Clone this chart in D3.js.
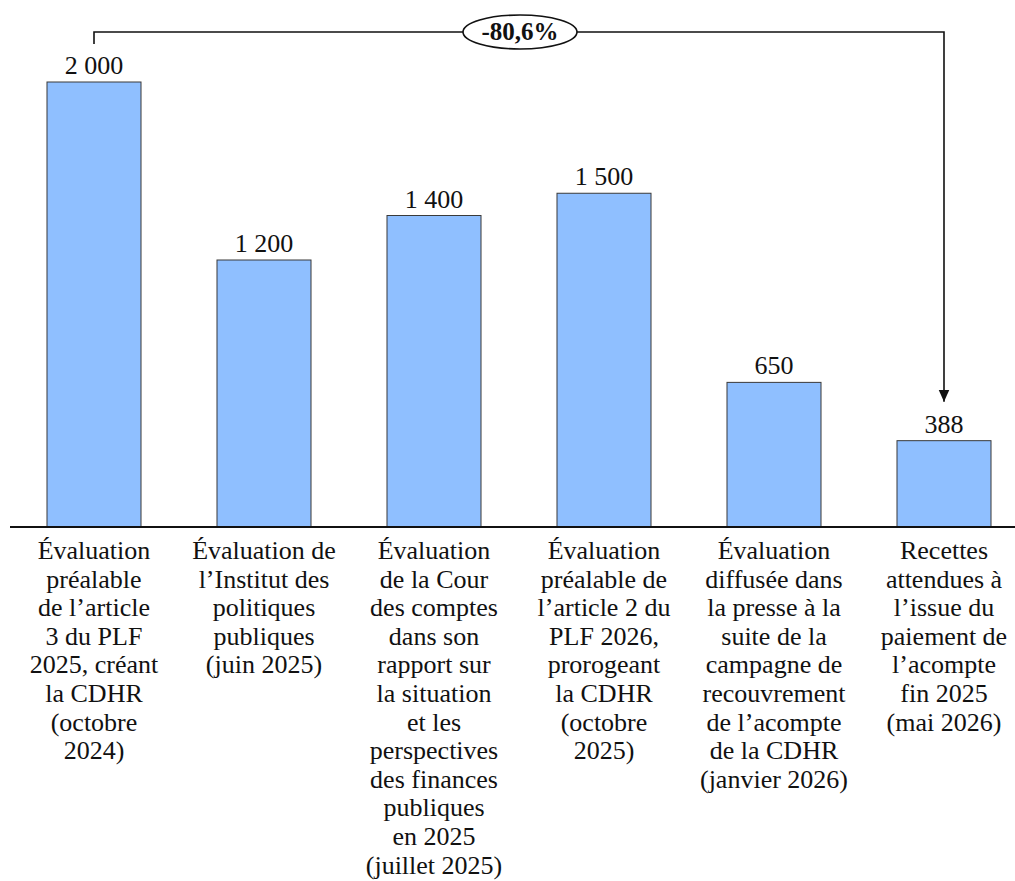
<!DOCTYPE html>
<html>
<head>
<meta charset="utf-8">
<script src="https://cdn.jsdelivr.net/npm/d3@7"></script>
<style>
  body { margin: 0; background: #fff; }
</style>
</head>
<body>
<script>
var width = 1015,
    height = 881,
    baseline = 527;

// one entry per bar, lines of the category label as they wrap in the picture
var labels = [
    ['Évaluation', 'préalable', 'de l’article', '3 du PLF', '2025, créant', 'la CDHR', '(octobre', '2024)'],
    ['Évaluation de', 'l’Institut des', 'politiques', 'publiques', '(juin 2025)'],
    ['Évaluation', 'de la Cour', 'des comptes', 'dans son', 'rapport sur', 'la situation', 'et les', 'perspectives', 'des finances', 'publiques', 'en 2025', '(juillet 2025)'],
    ['Évaluation', 'préalable de', 'l’article 2 du', 'PLF 2026,', 'prorogeant', 'la CDHR', '(octobre', '2025)'],
    ['Évaluation', 'diffusée dans', 'la presse à la', 'suite de la', 'campagne de', 'recouvrement', 'de l’acompte', 'de la CDHR', '(janvier 2026)'],
    ['Recettes', 'attendues à', 'l’issue du', 'paiement de', 'l’acompte', 'fin 2025', '(mai 2026)']
];
var values = [2000, 1200, 1400, 1500, 650, 388];
var valueLabels = ['2 000', '1 200', '1 400', '1 500', '650', '388'];
var change = '-80,6%';

var svg = d3.select('body')
    .append('svg')
    .attr('width', width)
    .attr('height', height)
    .attr('font-family', '"Liberation Serif", "Times New Roman", serif')
    .attr('fill', '#111');

var x = d3.scaleBand()
    .domain(d3.range(values.length))
    .range([9, 1029])
    .paddingInner(0.447)
    .paddingOuter(0.2235);

var y = d3.scaleLinear()
    .domain([0, 2000])
    .range([baseline, 82]);

svg.append('g')
    .selectAll('rect')
    .data(values).enter()
    .append('rect')
    .attr('x', (d, i) => x(i))
    .attr('y', d => y(d))
    .attr('width', x.bandwidth())
    .attr('height', d => baseline - y(d))
    .attr('fill', '#8fbfff')
    .attr('stroke', '#3a3a3a')
    .attr('stroke-width', 1);

svg.append('line')
    .attr('x1', 10)
    .attr('x2', width)
    .attr('y1', baseline)
    .attr('y2', baseline)
    .attr('stroke', '#111')
    .attr('stroke-width', 2);

var cx = i => x(i) + x.bandwidth() / 2;

svg.append('g')
    .selectAll('text')
    .data(valueLabels).enter()
    .append('text')
    .attr('x', (d, i) => cx(i))
    .attr('y', (d, i) => y(values[i]) - 8)
    .attr('text-anchor', 'middle')
    .style('font-size', '26px')
    .text(d => d);

var cats = svg.append('g')
    .selectAll('text')
    .data(labels).enter()
    .append('text')
    .attr('text-anchor', 'middle')
    .style('font-size', '26px');

cats.selectAll('tspan')
    .data((d, i) => d.map(line => ({line: line, i: i}))).enter()
    .append('tspan')
    .attr('x', d => cx(d.i))
    .attr('y', (d, j) => 559 + j * 28.6)
    .text(d => d.line);

// bracket from first bar to last bar
var first = 0, last = values.length - 1,
    bracketY = 32;

svg.append('defs').append('marker')
    .attr('id', 'arrow')
    .attr('viewBox', '0 0 10 10')
    .attr('refX', 10)
    .attr('refY', 5)
    .attr('markerWidth', 12)
    .attr('markerHeight', 12)
    .attr('markerUnits', 'userSpaceOnUse')
    .attr('orient', 'auto')
    .append('path')
    .attr('d', 'M0,0.5L10,5L0,9.5Z')
    .attr('fill', '#111');

svg.append('path')
    .attr('d', 'M' + cx(first) + ',' + (y(values[first]) - 38) +
        'V' + bracketY + 'H' + cx(last) + 'V' + (y(values[last]) - 39))
    .attr('fill', 'none')
    .attr('stroke', '#111')
    .attr('stroke-width', 1.6)
    .attr('marker-end', 'url(#arrow)');

svg.append('ellipse')
    .attr('cx', 520)
    .attr('cy', bracketY)
    .attr('rx', 57)
    .attr('ry', 17)
    .attr('fill', '#fff')
    .attr('stroke', '#111')
    .attr('stroke-width', 1.6);

svg.append('text')
    .attr('x', 520)
    .attr('y', bracketY + 8)
    .attr('text-anchor', 'middle')
    .style('font-size', '25px')
    .style('font-weight', 'bold')
    .text(change);
</script>
</body>
</html>
